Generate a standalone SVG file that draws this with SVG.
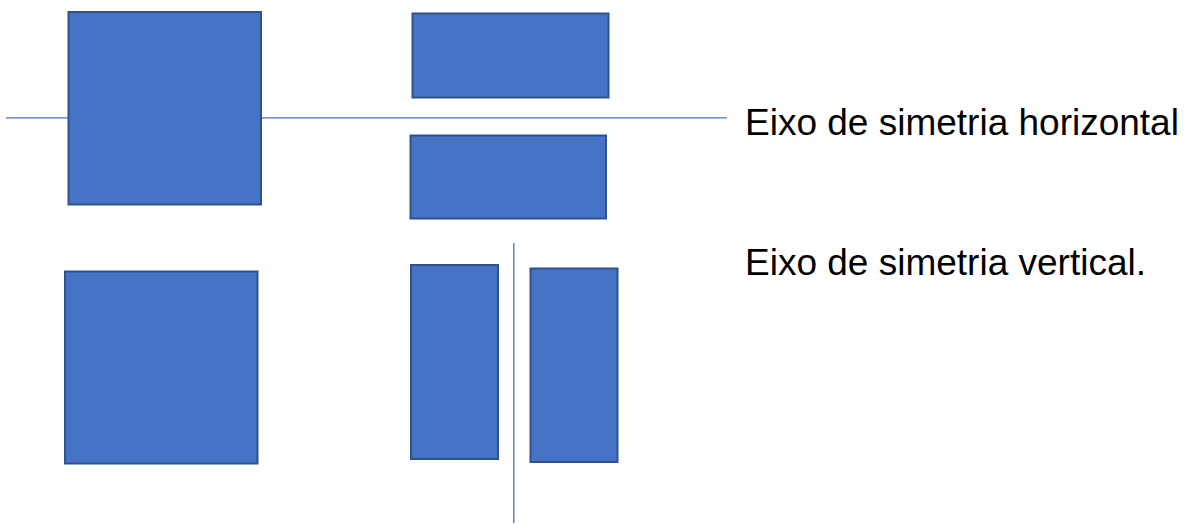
<svg xmlns="http://www.w3.org/2000/svg" width="1188" height="524" viewBox="0 0 1188 524">
<style>
.box{fill:#4472C4;stroke:#2F528F;stroke-width:2}
.axis{stroke:#4472C4;stroke-width:1.3;fill:none}
.lbl{font-family:"Liberation Sans",Arial,sans-serif;font-size:37px;fill:#000}
</style>
<rect width="1188" height="524" fill="#fff"/>
<g id="connectors">
<line class="axis" x1="6" y1="117.8" x2="727" y2="117.8"/>
<line class="axis" x1="513.8" y1="243" x2="513.8" y2="523"/>
</g>
<g id="sq1"><rect class="box" x="68.5" y="12" width="192.5" height="192.5"/></g>
<g id="r2"><rect class="box" x="412.5" y="13.5" width="196" height="84"/></g>
<g id="r3"><rect class="box" x="410.5" y="135.5" width="195.5" height="83"/></g>
<g id="sq2"><rect class="box" x="65" y="271.5" width="192.5" height="192"/></g>
<g id="r4"><rect class="box" x="411" y="265" width="87" height="194"/></g>
<g id="r5"><rect class="box" x="530.5" y="268.5" width="87" height="193.5"/></g>
<g id="labels">
<text class="lbl" x="745" y="135">Eixo de simetria horizontal</text>
<text class="lbl" x="745" y="274.5">Eixo de simetria vertical.</text>
</g>
</svg>
